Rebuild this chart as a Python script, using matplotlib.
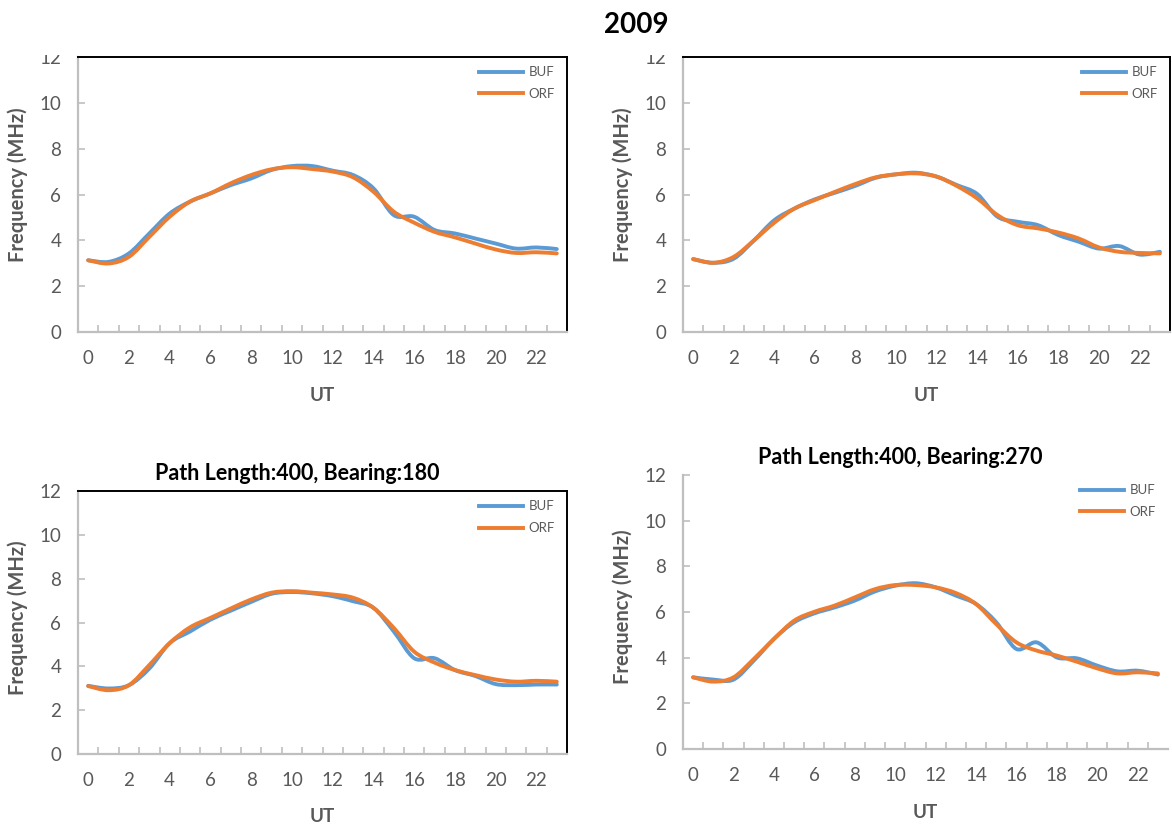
import numpy as np
import matplotlib.pyplot as plt
from matplotlib.path import Path
from matplotlib.patches import PathPatch, Rectangle
from matplotlib.lines import Line2D

plt.rcParams['font.family'] = ['Lato', 'DejaVu Sans']

hours = list(range(24))
x_ticks = list(range(0, 23, 2))
y_ticks = [0, 2, 4, 6, 8, 10, 12]

# top-left panel
buf_tl = [3.13, 3.06, 3.43, 4.30, 5.17, 5.69, 6.05, 6.41, 6.70, 7.07, 7.24, 7.24,
          7.04, 6.85, 6.27, 5.10, 5.03, 4.45, 4.30, 4.08, 3.86, 3.64, 3.69, 3.62]
orf_tl = [3.13, 2.99, 3.28, 4.15, 5.03, 5.69, 6.05, 6.49, 6.85, 7.10, 7.19, 7.11,
          7.00, 6.75, 6.12, 5.25, 4.77, 4.37, 4.13, 3.86, 3.60, 3.45, 3.48, 3.43]
# top-right panel
buf_tr = [3.18, 3.02, 3.20, 4.00, 4.88, 5.39, 5.79, 6.08, 6.38, 6.73, 6.88, 6.95,
          6.78, 6.41, 6.02, 5.03, 4.81, 4.66, 4.23, 3.94, 3.64, 3.75, 3.38, 3.50]
orf_tr = [3.18, 3.02, 3.28, 4.00, 4.77, 5.39, 5.76, 6.12, 6.46, 6.75, 6.88, 6.92,
          6.78, 6.37, 5.83, 5.10, 4.66, 4.52, 4.34, 4.08, 3.69, 3.50, 3.45, 3.43]
# bottom-left panel (bearing 180)
buf_bl = [3.11, 2.99, 3.14, 3.90, 5.06, 5.59, 6.13, 6.54, 6.94, 7.31, 7.39, 7.33,
          7.20, 6.97, 6.67, 5.59, 4.37, 4.37, 3.83, 3.56, 3.19, 3.14, 3.17, 3.17]
orf_bl = [3.10, 2.91, 3.14, 4.06, 5.06, 5.78, 6.21, 6.64, 7.05, 7.36, 7.43, 7.36,
          7.28, 7.13, 6.67, 5.75, 4.67, 4.17, 3.83, 3.60, 3.40, 3.30, 3.34, 3.30]
# bottom-right panel (bearing 270)
buf_br = [3.14, 3.04, 3.04, 3.87, 4.82, 5.55, 5.94, 6.20, 6.50, 6.90, 7.15, 7.26,
          7.08, 6.72, 6.35, 5.55, 4.38, 4.67, 4.01, 3.97, 3.65, 3.40, 3.43, 3.26]
orf_br = [3.14, 2.95, 3.14, 3.94, 4.82, 5.62, 6.01, 6.28, 6.64, 7.00, 7.18, 7.18,
          7.08, 6.83, 6.35, 5.47, 4.67, 4.31, 4.09, 3.82, 3.53, 3.31, 3.36, 3.31]

BLUE = '#5B9BD5'
ORANGE = '#ED7D31'
GRAY_TXT = '#595959'
GRAY_AX = '#BFBFBF'

W, H = 1172, 824


def smooth_line(ax, xs, ys, color):
    # Excel style smoothed line: Catmull-Rom segments drawn as cubic Beziers
    pts = np.column_stack([xs, ys]).astype(float)
    ext = np.vstack([pts[0], pts, pts[-1]])
    verts = [pts[0]]
    codes = [Path.MOVETO]
    for i in range(len(pts) - 1):
        p0, p1, p2, p3 = ext[i], ext[i + 1], ext[i + 2], ext[i + 3]
        verts += [p1 + (p2 - p0) / 6.0, p2 - (p3 - p1) / 6.0, p2]
        codes += [Path.CURVE4] * 3
    patch = PathPatch(Path(verts, codes), fill=False, edgecolor=color,
                      lw=2.8, capstyle='round', joinstyle='round', zorder=3)
    ax.add_patch(patch)


def make_panel(px_left, px_right, px_top, px_bottom, buf, orf,
               title=None, frame=True, ylab_shift=0):
    ax = fig.add_axes([px_left / W, 1 - px_bottom / H,
                       (px_right - px_left) / W, (px_bottom - px_top) / H])
    smooth_line(ax, hours, buf, BLUE)
    smooth_line(ax, hours, orf, ORANGE)
    ax.set_xlim(-0.5, 23.5)
    ax.set_ylim(0, 12)
    ax.set_xticks(x_ticks)
    ax.set_xticks(np.arange(0.5, 23.5, 1.0), minor=True)
    ax.set_yticks(y_ticks)
    ax.tick_params(axis='x', which='major', length=0, pad=13,
                   labelsize=13.5, labelcolor=GRAY_TXT)
    ax.tick_params(axis='x', which='minor', direction='in', length=5,
                   width=1.2, color=GRAY_AX)
    ax.tick_params(axis='y', which='major', direction='in', length=5,
                   width=1.2, color=GRAY_AX, pad=12,
                   labelsize=13.5, labelcolor=GRAY_TXT)
    for s in ('left', 'bottom'):
        ax.spines[s].set_color(GRAY_AX)
        ax.spines[s].set_linewidth(1.6)
    for s in ('top', 'right'):
        if frame:
            ax.spines[s].set_color('black')
            ax.spines[s].set_linewidth(1.4)
        else:
            ax.spines[s].set_visible(False)
    ax.set_xlabel('UT', fontsize=13.5, fontweight='bold', color=GRAY_TXT, labelpad=14)
    ax.set_ylabel('Frequency (MHz)', fontsize=14.5, fontweight='bold', color=GRAY_TXT)
    # y label sits about 50 px left of the axis, a little above the middle
    ax.yaxis.set_label_coords(-50 / (px_right - px_left),
                              0.5 + ylab_shift / (px_bottom - px_top))
    if title:
        # the title is centred on the whole chart area, a bit left of the plot
        ax.set_title(title, fontsize=15.5, fontweight='bold', pad=8,
                     x=0.5 - 25 / (px_right - px_left))
    handles = [Line2D([], [], color=BLUE, lw=2.8),
               Line2D([], [], color=ORANGE, lw=2.8)]
    leg = ax.legend(handles, ['BUF', 'ORF'], loc='upper right',
                    bbox_to_anchor=(1.0, 1.01), frameon=False, fontsize=9.5,
                    handlelength=3.4, labelspacing=0.75, handletextpad=0.4)
    for t in leg.get_texts():
        t.set_color(GRAY_TXT)
    return ax


fig = plt.figure(figsize=(W / 100, H / 100), dpi=100)

make_panel(78, 567, 57, 332, buf_tl, orf_tl, ylab_shift=10)
make_panel(683, 1170, 57, 332, buf_tr, orf_tr, ylab_shift=10)
make_panel(78, 567, 491, 754, buf_bl, orf_bl,
           title='Path Length:400, Bearing:180', ylab_shift=5)
make_panel(683, 1168, 475, 749, buf_br, orf_br,
           title='Path Length:400, Bearing:270', frame=False, ylab_shift=5)

# the top of the upper panels is cut off in the original figure
fig.patches.append(Rectangle((0, 1 - 55 / H), 1, 55 / H, transform=fig.transFigure,
                             facecolor='white', edgecolor='none', zorder=10))
fig.text(636 / W, 1 - 25 / H, '2009', ha='center', va='center',
         fontsize=20, fontweight='bold', zorder=11)

fig.savefig('out.png', dpi=100)
